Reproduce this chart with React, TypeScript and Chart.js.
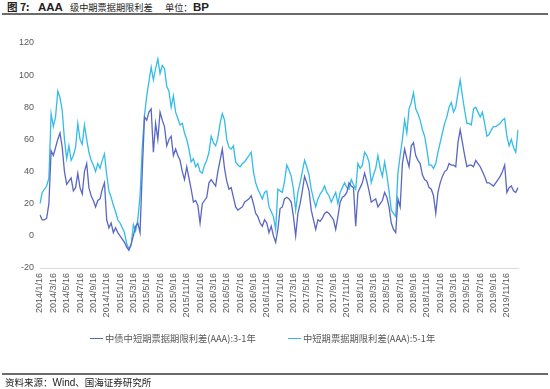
import React, { useEffect, useRef } from "react";
import { Chart, registerables } from "chart.js";

Chart.register(...registerables);

// Categories: observations on the 6th, 16th and 26th of each month, 2014/1/16 – 2020/1/6
const DAYS = [6, 16, 26];
const CATEGORIES: string[] = [];
for (let y = 2014; y <= 2020; y++) {
  for (let m = 1; m <= 12; m++) {
    for (const d of DAYS) {
      if (y === 2014 && m === 1 && d === 6) continue;
      if (y === 2020 && !(m === 1 && d === 6)) continue;
      CATEGORIES.push(`${y}/${m}/${d}`);
    }
  }
}

const TICK_LABELS = [
  "2014/1/16", "2014/3/16", "2014/5/16", "2014/7/16", "2014/9/16", "2014/11/16",
  "2015/1/16", "2015/3/16", "2015/5/16", "2015/7/16", "2015/9/16", "2015/11/16",
  "2016/1/16", "2016/3/16", "2016/5/16", "2016/7/16", "2016/9/16", "2016/11/16",
  "2017/1/16", "2017/3/16", "2017/5/16", "2017/7/16", "2017/9/16", "2017/11/16",
  "2018/1/16", "2018/3/16", "2018/5/16", "2018/7/16", "2018/9/16", "2018/11/16",
  "2019/1/16", "2019/3/16", "2019/5/16", "2019/7/16", "2019/9/16", "2019/11/16",
];

const SERIES_NAMES = ["中债中短期票据期限利差(AAA):3-1年", "中短期票据期限利差(AAA):5-1年"];

// 中债中短期票据期限利差(AAA):3-1年 (BP)
const SPREAD_3_1 = [
  13, 10, 10, 11, 20, 53, 50, 55, 60, 64,
  55, 40, 32, 34, 36, 28, 30, 39, 30, 26,
  40, 45, 30, 25, 22, 18, 22, 23, 29, 33,
  10, 5, 8, 2, 5, 2, 0, -2, -4, -7,
  -9, -5, 0, 6, 8, 2, 40, 74, 72, 77,
  79, 52, 70, 60, 77, 72, 68, 56, 60, 62,
  50, 54, 50, 47, 40, 35, 43, 36, 29, 21,
  22, 19, 8, 20, 22, 24, 33, 35, 33, 31,
  40, 47, 54, 42, 34, 29, 30, 24, 18, 16,
  17, 18, 21, 22, 23, 25, 20, 14, 12, 8,
  6, 10, 8, 2, 6, 0, -4, 4, 17, 18,
  23, 24, 23, 21, 12, 0, 14, 20, 28, 37,
  33, 28, 16, 10, 4, 10, 9, 11, 14, 15,
  14, 12, 10, 4, 12, 21, 24, 25, 27, 33,
  31, 30, 6, 27, 30, 33, 39, 34, 28, 21,
  22, 23, 18, 20, 22, 27, 24, 18, 8, 4,
  2, 23, 18, 45, 54, 48, 43, 56, 58, 50,
  47, 45, 38, 35, 34, 30, 29, 25, 14, 27,
  33, 37, 40, 41, 45, 44, 44, 43, 58, 66,
  58, 50, 43, 44, 44, 43, 47, 45, 43, 40,
  37, 33, 33, 32, 31, 33, 35, 37, 40, 44,
  27, 30, 31, 28, 27, 30,
];

// 中短期票据期限利差(AAA):5-1年 (BP)
const SPREAD_5_1 = [
  20, 27, 29, 31, 36, 76, 68, 74, 90, 86,
  78, 60, 48, 56, 47, 50, 55, 70, 60, 57,
  69, 60, 52, 47, 44, 40, 45, 42, 47, 51,
  38, 28, 24, 19, 15, 10, 8, 5, 2, -5,
  -8, -6, 7, 3, 10, 25, 55, 75, 87, 96,
  105, 97, 104, 110, 101, 106, 104, 93, 90, 80,
  87, 77, 73, 69, 70, 64, 60, 54, 46, 48,
  43, 45, 40, 39, 44, 47, 52, 62, 58, 56,
  61, 70, 76, 72, 60, 55, 54, 56, 46, 44,
  43, 45, 46, 48, 50, 52, 40, 33, 29, 26,
  23, 27, 28, 18, 15, 12, 4, 29, 28, 27,
  34, 44, 41, 37, 29, 16, 27, 33, 40, 47,
  43, 38, 29, 23, 18, 23, 26, 28, 31, 27,
  25, 21, 24, 27, 20, 27, 30, 33, 30, 29,
  35, 32, 29, 45, 42, 44, 52, 50, 46, 33,
  38, 42, 50, 42, 37, 46, 38, 28, 16, 14,
  12, 39, 50, 60, 72, 64, 79, 83, 89, 79,
  76, 72, 66, 62, 54, 44, 44, 42, 45, 52,
  58, 64, 70, 74, 80, 83, 77, 80, 89, 97,
  87, 78, 70, 70, 69, 79, 80, 77, 74, 77,
  70, 62, 63, 66, 68, 68, 69, 70, 72, 73,
  62, 56, 60, 55, 52, 66,
];

const TICK_SET = new Set(TICK_LABELS);
const DARK = "#5a67c2";
const CYAN = "#33bbea";
const COLORS = [DARK, CYAN];
const LATIN = "'Liberation Sans', Arial, sans-serif";
const CJK = "'Noto Sans CJK SC', sans-serif";

export default function App() {
  const ref = useRef<HTMLCanvasElement>(null);

  useEffect(() => {
    if (!ref.current) return;
    const chart = new Chart(ref.current, {
      type: "line",
      data: {
        labels: CATEGORIES,
        datasets: [
          {
            label: SERIES_NAMES[0],
            data: SPREAD_3_1,
            borderColor: DARK,
            backgroundColor: DARK,
            borderWidth: 1.3,
            pointRadius: 0,
            tension: 0,
          },
          {
            label: SERIES_NAMES[1],
            data: SPREAD_5_1,
            borderColor: CYAN,
            backgroundColor: CYAN,
            borderWidth: 1.3,
            pointRadius: 0,
            tension: 0,
          },
        ],
      },
      options: {
        responsive: false,
        animation: false,
        layout: { padding: { top: 43, left: 12, right: 32, bottom: 69 } },
        plugins: {
          legend: { display: false },
          tooltip: { enabled: false },
        },
        scales: {
          x: {
            grid: { display: false, drawTicks: false },
            border: { display: true, color: "#d9d9d9" },
            ticks: {
              autoSkip: false,
              maxRotation: 90,
              minRotation: 90,
              padding: 5,
              color: "#595959",
              font: { size: 9, family: LATIN },
              callback: (_v: any, i: number) => (TICK_SET.has(CATEGORIES[i]) ? CATEGORIES[i] : ""),
            },
            afterFit: (s: any) => {
              s.height = 52;
            },
          },
          y: {
            min: -20,
            max: 120,
            grid: { display: false, drawTicks: false },
            border: { display: false },
            ticks: {
              stepSize: 20,
              padding: 6,
              color: "#595959",
              font: { size: 9, family: LATIN },
            },
            afterFit: (s: any) => {
              s.width = 28;
            },
          },
        },
      },
    });
    return () => chart.destroy();
  }, []);

  const titleBase: React.CSSProperties = {
    position: "absolute",
    top: 0,
    lineHeight: "14px",
    whiteSpace: "nowrap",
    color: "#222",
  };

  const legendLefts = [90, 288];

  return (
    <div
      style={{
        position: "absolute",
        left: 0,
        top: 0,
        width: 550,
        height: 389,
        background: "#fff",
        overflow: "hidden",
      }}
    >
      <span style={{ ...titleBase, left: 7, fontFamily: CJK, fontWeight: 700, fontSize: 10.5 }}>图 7:</span>
      <span style={{ ...titleBase, left: 38, fontFamily: LATIN, fontWeight: 700, fontSize: 11.5 }}>AAA</span>
      <span style={{ ...titleBase, left: 70, fontFamily: CJK, fontWeight: 400, fontSize: 9.2 }}>级中期票据期限利差</span>
      <span style={{ ...titleBase, left: 165, fontFamily: CJK, fontWeight: 400, fontSize: 9.2 }}>单位：</span>
      <span style={{ ...titleBase, left: 193, fontFamily: LATIN, fontWeight: 700, fontSize: 11.5 }}>BP</span>
      <div style={{ position: "absolute", left: 2, top: 13, width: 546, height: 2, background: "#6b6b6b" }} />
      <canvas ref={ref} width={550} height={389} style={{ position: "absolute", left: 0, top: 0, width: 550, height: 389 }} />
      {SERIES_NAMES.map((name, i) => (
        <div key={name} style={{ position: "absolute", left: legendLefts[i], top: 331, height: 14, whiteSpace: "nowrap" }}>
          <div style={{ position: "absolute", left: 0, top: 6.5, width: 13, height: 1.5, background: COLORS[i] }} />
          <span
            style={{
              position: "absolute",
              left: 15,
              top: 0,
              lineHeight: "14px",
              fontSize: 9.3,
              fontFamily: CJK,
              color: "#595959",
            }}
          >
            {name}
          </span>
        </div>
      ))}
      <div style={{ position: "absolute", left: 2, top: 373, width: 546, height: 2, background: "#6b6b6b" }} />
      <span
        style={{
          position: "absolute",
          left: 5,
          top: 376,
          lineHeight: "13px",
          fontSize: 9.5,
          fontFamily: CJK,
          color: "#222",
          whiteSpace: "nowrap",
        }}
      >
        资料来源：<span style={{ fontFamily: LATIN, fontSize: 10 }}>Wind</span>、国海证券研究所
      </span>
    </div>
  );
}
